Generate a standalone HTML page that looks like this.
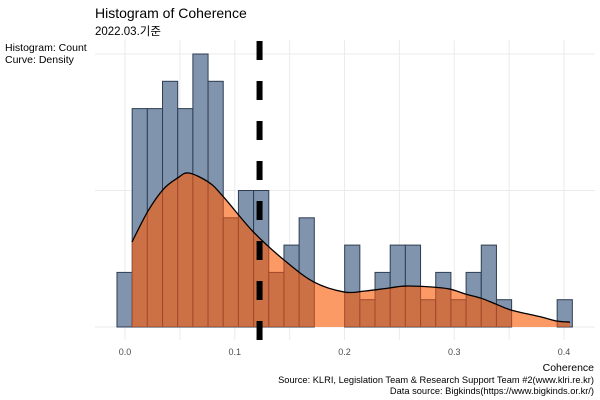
<!DOCTYPE html>
<html><head><meta charset="utf-8"><style>
body{margin:0;background:#fff;}
svg{display:block;font-family:"Liberation Sans","Noto Sans CJK KR",sans-serif;}
</style></head><body>
<svg id="chart" width="600" height="400" viewBox="0 0 600 400">
<text x="95" y="18" font-size="14" fill="#000">Histogram of Coherence</text>
<text x="95" y="35" font-size="11.5" fill="#000">2022.03.기준</text>
<text x="5" y="51" font-size="10.5" fill="#000">Histogram: Count</text>
<text x="5" y="63" font-size="10.5" fill="#000">Curve: Density</text>
<g id="grid"></g>
<g id="bars"></g>
<g id="dens"></g>
<g id="xaxis"></g>
<text x="594" y="371" font-size="10.5" text-anchor="end" fill="#000">Coherence</text>
<text x="594" y="383" font-size="9.3" text-anchor="end" fill="#000">Source: KLRI, Legislation Team &amp; Research Support Team #2(www.klri.re.kr)</text>
<text x="594" y="394" font-size="9.3" text-anchor="end" fill="#000">Data source: Bigkinds(https://www.bigkinds.or.kr/)</text>
</svg>
<script>
const binStart = -0.0073;
const binWidth = 0.01383;
const counts = [2,8,8,9,8,10,9,4,5,5,2,3,4,0,0,3,1,2,3,3,1,2,1,2,3,1,0,0,0,1];
const curveX = [0.0063,0.021,0.035,0.048,0.058,0.076,0.089,0.117,0.145,0.172,0.200,0.219,0.241,0.255,0.278,0.296,0.310,0.324,0.338,0.352,0.379,0.393,0.4055];
const curveY = [3.11,4.25,5.05,5.46,5.64,5.31,4.8,3.48,2.45,1.65,1.28,1.32,1.43,1.5,1.47,1.39,1.21,1.06,0.84,0.62,0.37,0.22,0.18];
const xTicks = [0.0,0.1,0.2,0.3,0.4];
const xTickLabels = ["0.0","0.1","0.2","0.3","0.4"];
const vline = 0.1226;

const NS="http://www.w3.org/2000/svg";
const X0=125, XS=1097.5, Y0=327, YS=27.3, TOP=40, BOT=340, LEFT=95, RIGHT=595;
const sx=v=>X0+v*XS, sy=c=>Y0-c*YS;
function mk(tag,attrs,parent){const e=document.createElementNS(NS,tag);for(const k in attrs)e.setAttribute(k,attrs[k]);parent.appendChild(e);return e;}
const grid=document.getElementById('grid'),bars=document.getElementById('bars'),dens=document.getElementById('dens'),xaxis=document.getElementById('xaxis');
for(let v=0;v<=0.4001;v+=0.05){const l=mk('line',{x1:sx(v),x2:sx(v),y1:TOP,y2:BOT,stroke:'#ebebeb','stroke-width':1},grid);

}
[0,5,10].forEach(c=>{const l=mk('line',{x1:LEFT,x2:RIGHT,y1:sy(c),y2:sy(c),stroke:'#ebebeb','stroke-width':1},grid);

});
counts.forEach((c,i)=>{if(!c)return;const x=sx(binStart+i*binWidth),w=binWidth*XS;
const r=mk('rect',{x:x,y:sy(c),width:w,height:c*YS,fill:'#8094ad',stroke:'#2e3d52','stroke-width':1},bars);

});
const P=curveX.map((x,i)=>[sx(x),sy(curveY[i])]);
let smooth='M'+P[0][0]+','+P[0][1];
for(let i=0;i<P.length-1;i++){const p0=P[Math.max(0,i-1)],p1=P[i],p2=P[i+1],p3=P[Math.min(P.length-1,i+2)];
const c1=[p1[0]+(p2[0]-p0[0])/6,p1[1]+(p2[1]-p0[1])/6],c2=[p2[0]-(p3[0]-p1[0])/6,p2[1]-(p3[1]-p1[1])/6];
smooth+=' C'+c1[0]+','+c1[1]+' '+c2[0]+','+c2[1]+' '+p2[0]+','+p2[1];}
const d='M'+P[0][0]+','+Y0+' L'+smooth.slice(1)+' L'+P[P.length-1][0]+','+Y0+' Z';
const defs=mk('defs',{},dens);const cp=mk('clipPath',{id:'under'},defs);mk('path',{d:d},cp);
const area=mk('path',{d:d,fill:'#fc9a66'},dens);


const dg=mk('g',{'clip-path':'url(#under)'},dens);
counts.forEach((c,i)=>{if(!c)return;const x=sx(binStart+i*binWidth),w=binWidth*XS;
const r=mk('rect',{x:x,y:sy(c),width:w,height:c*YS,fill:'#cc7045',stroke:'#a2492a','stroke-width':1},dg);

});
const line=mk('path',{d:smooth,fill:'none',stroke:'#000','stroke-width':1.3},dens);


const vl=mk('line',{x1:sx(vline),x2:sx(vline),y1:41,y2:BOT,stroke:'#000','stroke-width':6,'stroke-dasharray':'19 21'},dens);


xTicks.forEach((v,i)=>{const t=mk('text',{x:sx(v),y:355,'font-size':9,'text-anchor':'middle',fill:'#4d4d4d'},xaxis);t.textContent=xTickLabels[i];

});
</script>
</body></html>
